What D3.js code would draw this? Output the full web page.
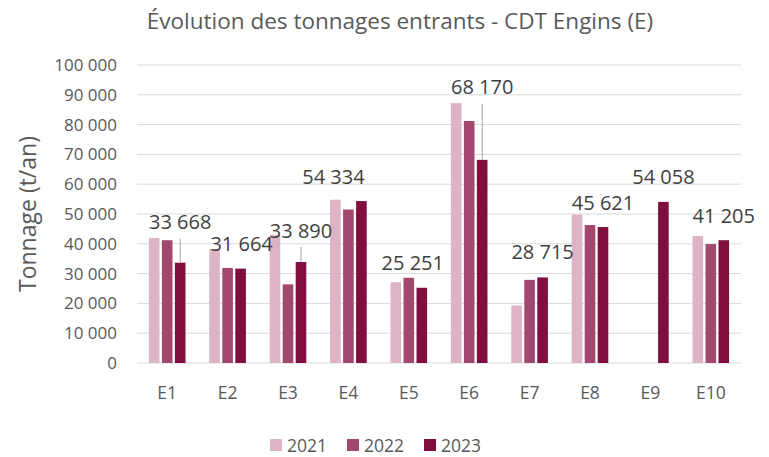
<!DOCTYPE html>
<html>
<head>
<meta charset="utf-8">
<script src="https://cdn.jsdelivr.net/npm/d3@7"></script>
<style>
    body { margin: 0; background: #fff; }
    text { font-family: "Open Sans", "Noto Sans", sans-serif; }
</style>
</head>
<body>
<script>
// Data
const categories = ["E1", "E2", "E3", "E4", "E5", "E6", "E7", "E8", "E9", "E10"];
const years = ["2021", "2022", "2023"];
const values2021 = [41900, 38300, 43000, 54800, 27100, 87200, 19300, 49800, null, 42600];
const values2022 = [41200, 31900, 26400, 51500, 28600, 81200, 27900, 46300, null, 39900];
const values2023 = [33668, 31664, 33890, 54334, 25251, 68170, 28715, 45621, 54058, 41205];
const yTicks = [0, 10000, 20000, 30000, 40000, 50000, 60000, 70000, 80000, 90000, 100000];

const colors = ["#dfb3c6", "#a2486e", "#800f3f"];

const width = 769, height = 457;
const margin = { top: 65, right: 28, bottom: 94, left: 137 };

const svg = d3.select("body").append("svg")
    .attr("width", width)
    .attr("height", height);

const x = d3.scaleBand()
    .domain(categories)
    .range([margin.left, width - margin.right]);

const y = d3.scaleLinear()
    .domain([0, 100000])
    .range([height - margin.bottom, margin.top]);

const xInner = d3.scaleBand()
    .domain(years)
    .range([-19.5, 19.5]);

const fmt = v => d3.format(",")(v).replace(/,/g, " ");

// gridlines
svg.append("g")
    .selectAll("line")
    .data(yTicks)
    .enter()
    .append("line")
    .attr("x1", margin.left)
    .attr("x2", width - margin.right)
    .attr("y1", d => y(d))
    .attr("y2", d => y(d))
    .attr("stroke", "#d9d9d9")
    .attr("stroke-width", 1);

// y axis labels
const yAxis = d3.axisLeft(y).tickValues(yTicks).tickFormat(fmt).tickSize(0).tickPadding(20);
const gy = svg.append("g")
    .attr("transform", `translate(${margin.left},0)`)
    .call(yAxis);
gy.select(".domain").remove();
gy.selectAll("text")
    .attr("fill", "#595959")
    .style("font-size", "17px")
    .style("font-family", "'Open Sans', sans-serif");

// x axis labels
const xAxis = d3.axisBottom(x).tickSize(0).tickPadding(24);
const gx = svg.append("g")
    .attr("transform", `translate(0,${y(0)})`)
    .call(xAxis);
gx.select(".domain").remove();
gx.selectAll("text")
    .attr("fill", "#595959")
    .style("font-size", "17.5px")
    .style("font-family", "'Open Sans', sans-serif");

// bars
const series = [values2021, values2022, values2023];
const barData = [];
series.forEach((vals, s) => {
    vals.forEach((v, i) => {
        if (v !== null) barData.push({ cat: categories[i], year: years[s], value: v, s: s });
    });
});

svg.append("g")
    .selectAll("rect")
    .data(barData)
    .enter()
    .append("rect")
    .attr("x", d => x(d.cat) + x.bandwidth() / 2 + xInner(d.year) + 1.2)
    .attr("width", xInner.bandwidth() - 2.4)
    .attr("y", d => y(d.value))
    .attr("height", d => y(0) - y(d.value))
    .attr("fill", d => colors[d.s]);

// data labels for 2023 (moved by hand in the original, some with leader lines)
const labelShift = [[0, -41], [1, -25], [0, -32], [-28, -25], [-9, -25], [0, -73], [0, -26], [0, -25], [0, -25], [0, -25]];
const labels = svg.append("g");
values2023.forEach((v, i) => {
    const bx = x(categories[i]) + x.bandwidth() / 2 + xInner("2023") + xInner.bandwidth() / 2;
    const by = y(v);
    const [dx, dy] = labelShift[i];
    const lx = bx + dx, ly = by + dy;
    if (dy < -30) {
        labels.append("line")
            .attr("x1", bx).attr("x2", bx)
            .attr("y1", ly + 17).attr("y2", by)
            .attr("stroke", "#a6a6a6")
            .attr("stroke-width", 1);
    }
    labels.append("text")
        .attr("x", lx)
        .attr("y", ly)
        .attr("text-anchor", "middle")
        .attr("dominant-baseline", "central")
        .attr("fill", "#404040")
        .style("font-size", "20px")
        .text(fmt(v));
});

// title
svg.append("text")
    .attr("x", 400)
    .attr("y", 29)
    .attr("text-anchor", "middle")
    .attr("fill", "#595959")
    .style("font-size", "22.5px")
    .text("Évolution des tonnages entrants - CDT Engins (E)");

// y axis title
svg.append("text")
    .attr("transform", `translate(36,${(y(0) + y(100000)) / 2}) rotate(-90)`)
    .attr("text-anchor", "middle")
    .attr("fill", "#595959")
    .style("font-size", "23px")
    .text("Tonnage (t/an)");

// legend
const legend = svg.append("g").attr("transform", "translate(270,445)");
const legendX = d3.scalePoint().domain(years).range([0, 154]);
years.forEach((yr, i) => {
    const g = legend.append("g").attr("transform", `translate(${legendX(yr)},0)`);
    g.append("rect")
        .attr("x", 0).attr("y", -6)
        .attr("width", 12).attr("height", 12)
        .attr("fill", colors[i]);
    g.append("text")
        .attr("x", 17).attr("y", 0)
        .attr("dominant-baseline", "central")
        .attr("fill", "#595959")
        .style("font-size", "17.5px")
        .text(yr);
});
</script>
</body>
</html>
